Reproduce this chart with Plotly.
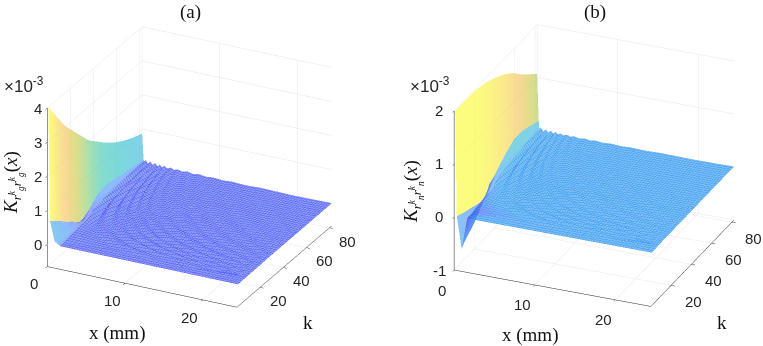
import plotly.graph_objects as go

k_modes = [1, 4, 8, 12, 16, 20, 25, 30, 36, 42, 50, 58, 66, 74, 82]
x_foot = 0.2

# x of the first fall, then of the crests and troughs of the ripple arcs, one row per k
x_near = [0.8, 0.8, 0.9, 1.0, 1.0, 0.9, 0.8, 0.6, 0.5, 0.4, 0.35, 0.3, 0.28, 0.26, 0.25]
x_arcs = [
    [1.5, 2.5, 3.5, 5, 6.5, 8, 9.5, 11, 12.5, 14, 15.5, 17, 18.5, 20, 21, 22, 23, 23.5, 23.7, 23.8, 23.9, 24, 24.1, 24.2, 24.4],
    [1.5, 2.5, 3.5, 5, 6.5, 8, 9.5, 11, 12.5, 14, 15.5, 17, 18.5, 20, 21, 22, 23, 23.5, 23.7, 23.8, 23.9, 24, 24.1, 24.2, 24.4],
    [1.5, 8, 11.2, 14.4, 17.5, 20.6, 23.1, 23.2, 23.3, 23.4, 23.5, 23.6, 23.7, 23.8, 23.85, 23.9, 23.95, 24, 24.05, 24.1, 24.15, 24.2, 24.25, 24.3, 24.4],
    [1.5, 5.4, 7.5, 9.6, 11.7, 13.8, 15.8, 17.9, 20, 22.5, 23.4, 23.5, 23.6, 23.7, 23.8, 23.85, 23.9, 23.95, 24, 24.05, 24.1, 24.15, 24.2, 24.3, 24.4],
    [1.5, 4.1, 5.6, 7.2, 8.8, 10.3, 11.9, 13.4, 15, 16.9, 18.8, 21.2, 23.4, 23.5, 23.6, 23.7, 23.8, 23.9, 24, 24.05, 24.1, 24.15, 24.2, 24.3, 24.4],
    [1.5, 3.25, 4.5, 5.75, 7, 8.25, 9.5, 10.75, 12, 13.5, 15, 17, 19, 21.5, 23.5, 23.6, 23.7, 23.8, 23.9, 24, 24.05, 24.1, 24.2, 24.3, 24.4],
    [1.6, 2.6, 3.6, 4.6, 5.6, 6.6, 7.6, 8.6, 9.6, 10.8, 12, 13.6, 15.2, 17.2, 19.2, 21.6, 23.6, 23.7, 23.8, 23.9, 24, 24.1, 24.2, 24.3, 24.4],
    [1.3, 2.2, 3, 3.8, 4.7, 5.5, 6.3, 7.2, 8, 9, 10, 11.3, 12.7, 14.3, 16, 18, 20, 22.7, 23.7, 23.8, 23.9, 24, 24.1, 24.2, 24.4],
    [1.1, 1.8, 2.5, 3.2, 3.9, 4.6, 5.3, 6, 6.7, 7.5, 8.3, 9.4, 10.6, 11.9, 13.3, 15, 16.7, 18.9, 20.8, 23.4, 23.7, 23.9, 24, 24.2, 24.4],
    [0.95, 1.55, 2.1, 2.7, 3.3, 3.9, 4.5, 5.1, 5.7, 6.4, 7.1, 8.1, 9, 10.2, 11.4, 12.9, 14.3, 16.2, 17.9, 20.2, 22.6, 23.7, 23.9, 24.1, 24.4],
    [0.8, 1.3, 1.8, 2.3, 2.8, 3.3, 3.8, 4.3, 4.8, 5.4, 6, 6.8, 7.6, 8.6, 9.6, 10.8, 12, 13.6, 15, 17, 19, 22, 23.8, 24.1, 24.4],
    [0.69, 1.1, 1.55, 2, 2.4, 2.8, 3.3, 3.7, 4.1, 4.7, 5.2, 5.9, 6.6, 7.4, 8.3, 9.3, 10.3, 11.7, 12.9, 14.7, 16.4, 19, 21.6, 23.9, 24.4],
    [0.61, 0.98, 1.4, 1.7, 2.1, 2.5, 2.9, 3.3, 3.6, 4.1, 4.5, 5.2, 5.8, 6.5, 7.3, 8.2, 9.1, 10.3, 11.4, 12.9, 14.4, 16.7, 18.9, 23.9, 24.4],
    [0.54, 0.88, 1.2, 1.55, 1.9, 2.2, 2.6, 2.9, 3.2, 3.6, 4.1, 4.6, 5.1, 5.8, 6.5, 7.3, 8.1, 9.2, 10.1, 11.5, 12.8, 14.9, 16.9, 21.6, 24.4],
    [0.49, 0.79, 1.1, 1.4, 1.7, 2, 2.3, 2.6, 2.9, 3.3, 3.7, 4.1, 4.6, 5.2, 5.9, 6.6, 7.3, 8.3, 9.1, 10.4, 11.6, 13.4, 15.2, 19.5, 24.4],
]

wall_a = [4.0, 3.8, 3.52, 3.25, 3.0, 2.8, 2.55, 2.3, 2.0, 1.8, 1.53, 1.3, 1.12, 0.97, 0.87]
foot_a = [0.67, 0.58, 0.46, 0.34, 0.2, 0.1, -0.1, -0.15, 0.05, 0.25, 0.32, 0.27, 0.2, 0.15, 0.11]
near_a = [0.1, 0.08, 0.06, 0.04, 0.03, 0.03, 0.02, 0.06, 0.14, 0.2, 0.16, 0.11, 0.08, 0.05, 0.03]
arcs_a = [
    [0, 0, 0, 0, 0, 0, 0, 0, 0, 0, 0, 0, 0, 0, 0, 0, 0, 0, 0, 0, 0, 0, 0, 0, 0],
    [0, 0, 0, 0, 0, 0, 0, 0, 0, 0, 0, 0, 0, 0, 0, 0, 0, 0, 0, 0, 0, 0, 0, 0, 0],
    [.03, 0, .03, 0, .025, 0, .02, 0, .02, 0, .015, 0, .01, 0, .01, 0, .01, 0, .01, 0, .01, 0, .01, 0, .01],
    [.06, 0, .05, 0, .04, 0, .035, 0, .03, 0, .025, 0, .02, 0, .02, 0, .015, 0, .01, 0, .01, 0, .01, 0, .01],
    [.08, 0, .07, 0, .06, 0, .05, 0, .04, 0, .035, 0, .03, 0, .025, 0, .02, 0, .02, 0, .015, 0, .01, 0, .01],
    [.10, 0, .08, 0, .07, 0, .06, 0, .05, 0, .04, 0, .04, 0, .03, 0, .02, 0, .02, 0, .02, 0, .01, 0, .01],
    [.13, 0, .11, 0, .10, 0, .08, 0, .07, 0, .06, 0, .05, 0, .04, 0, .03, 0, .03, 0, .02, 0, .02, 0, .02],
    [.16, 0, .14, 0, .12, 0, .10, 0, .085, 0, .07, 0, .06, 0, .05, 0, .04, 0, .035, 0, .03, 0, .025, 0, .02],
    [.16, 0, .14, 0, .12, 0, .10, 0, .085, 0, .07, 0, .06, 0, .05, 0, .04, 0, .035, 0, .03, 0, .025, 0, .02],
    [.16, 0, .14, 0, .12, 0, .10, 0, .085, 0, .07, 0, .06, 0, .05, 0, .04, 0, .035, 0, .03, 0, .025, 0, .02],
    [.16, 0, .14, 0, .12, 0, .10, 0, .085, 0, .07, 0, .06, 0, .05, 0, .04, 0, .035, 0, .03, 0, .025, 0, .02],
    [.15, 0, .13, 0, .11, 0, .09, 0, .08, 0, .065, 0, .055, 0, .045, 0, .04, 0, .03, 0, .03, 0, .02, 0, .02],
    [.14, 0, .12, 0, .10, 0, .085, 0, .07, 0, .06, 0, .05, 0, .04, 0, .035, 0, .03, 0, .025, 0, .02, 0, .02],
    [.13, 0, .11, 0, .095, 0, .08, 0, .065, 0, .055, 0, .045, 0, .04, 0, .03, 0, .03, 0, .02, 0, .02, 0, .02],
    [.12, 0, .10, 0, .09, 0, .07, 0, .06, 0, .05, 0, .04, 0, .035, 0, .03, 0, .025, 0, .02, 0, .02, 0, .02],
]

wall_b = [1.98, 1.98, 1.98, 1.98, 1.98, 1.97, 1.95, 1.92, 1.87, 1.8, 1.7, 1.56, 1.38, 1.22, 1.07]
foot_b = [0.0, -0.03, -0.07, -0.1, -0.13, -0.17, -0.2, -0.2, -0.05, 0.1, 0.23, 0.33, 0.32, 0.26, 0.18]
near_b = [-0.6, -0.52, -0.42, -0.32, -0.22, -0.15, -0.08, 0.04, 0.08, 0.14, 0.17, 0.18, 0.14, 0.1, 0.06]
arcs_b = [
    [0, 0, 0, 0, 0, 0, 0, 0, 0, 0, 0, 0, 0, 0, 0, 0, 0, 0, 0, 0, 0, 0, 0, 0, 0],
    [0, 0, 0, 0, 0, 0, 0, 0, 0, 0, 0, 0, 0, 0, 0, 0, 0, 0, 0, 0, 0, 0, 0, 0, 0],
    [.02, 0, .02, 0, .015, 0, .015, 0, .01, 0, .01, 0, .01, 0, .01, 0, .01, 0, .01, 0, .01, 0, .01, 0, .01],
    [.03, 0, .03, 0, .025, 0, .02, 0, .02, 0, .015, 0, .015, 0, .01, 0, .01, 0, .01, 0, .01, 0, .01, 0, .01],
    [.04, 0, .035, 0, .03, 0, .025, 0, .02, 0, .02, 0, .015, 0, .015, 0, .01, 0, .01, 0, .01, 0, .01, 0, .01],
    [.05, 0, .04, 0, .035, 0, .03, 0, .025, 0, .02, 0, .02, 0, .015, 0, .015, 0, .01, 0, .01, 0, .01, 0, .01],
    [.06, 0, .05, 0, .045, 0, .04, 0, .03, 0, .025, 0, .02, 0, .02, 0, .015, 0, .015, 0, .01, 0, .01, 0, .01],
    [.08, 0, .07, 0, .06, 0, .05, 0, .04, 0, .03, 0, .025, 0, .02, 0, .02, 0, .015, 0, .015, 0, .01, 0, .01],
    [.10, 0, .085, 0, .07, 0, .06, 0, .05, 0, .04, 0, .03, 0, .025, 0, .02, 0, .02, 0, .015, 0, .015, 0, .01],
    [.10, 0, .085, 0, .07, 0, .06, 0, .05, 0, .04, 0, .03, 0, .025, 0, .02, 0, .02, 0, .015, 0, .015, 0, .01],
    [.10, 0, .085, 0, .07, 0, .06, 0, .05, 0, .04, 0, .03, 0, .025, 0, .02, 0, .02, 0, .015, 0, .015, 0, .01],
    [.09, 0, .08, 0, .065, 0, .055, 0, .045, 0, .035, 0, .03, 0, .025, 0, .02, 0, .02, 0, .015, 0, .01, 0, .01],
    [.09, 0, .075, 0, .06, 0, .05, 0, .04, 0, .035, 0, .03, 0, .02, 0, .02, 0, .015, 0, .015, 0, .01, 0, .01],
    [.08, 0, .07, 0, .055, 0, .045, 0, .04, 0, .03, 0, .025, 0, .02, 0, .02, 0, .015, 0, .01, 0, .01, 0, .01],
    [.07, 0, .06, 0, .05, 0, .04, 0, .035, 0, .03, 0, .025, 0, .02, 0, .015, 0, .015, 0, .01, 0, .01, 0, .01],
]

x_ticks = [0, 10, 20]
k_ticks = [20, 40, 60, 80]
z_ticks_a = [0, 1, 2, 3, 4]
z_ticks_b = [-1, 0, 1, 2]

parula = [
    [0.0, "#3e26a8"], [0.1, "#4746f6"], [0.2, "#2e87f7"], [0.3, "#1fa5de"],
    [0.4, "#0fb9c0"], [0.5, "#24bfa0"], [0.6, "#7fc659"], [0.7, "#c9c129"],
    [0.8, "#f5b941"], [0.9, "#f6d92d"], [1.0, "#f9fb15"],
]

# columns: wall, its foot (twice, so the colour can change there), first fall, arcs
x_grid = [[0, x_foot, x_foot + 0.01, n] + a for n, a in zip(x_near, x_arcs)]


def rows(wall, foot, near, arcs):
    return [[w, f, f, n] + a for w, f, n, a in zip(wall, foot, near, arcs)]


def flat_colour(z):
    # face takes the colour of its first corner, as in the original surf
    return [[row[max(j - 1, 0)] for j in range(len(row))] for row in z]


def surface(z, scene, cmin, cmax):
    return go.Surface(
        x=x_grid, y=k_modes, z=z, surfacecolor=flat_colour(z), scene=scene,
        colorscale=parula, cmin=cmin, cmax=cmax, showscale=False, opacity=0.55,
        lighting=dict(ambient=1, diffuse=0, specular=0, fresnel=0),
    )


def mesh(z, scene, colour):
    # the dense mesh lines sit on the ripple arcs only
    return go.Surface(
        x=[r[4:] for r in x_grid], y=k_modes, z=[r[4:] for r in z], scene=scene,
        colorscale=[[0, colour], [1, colour]], showscale=False, opacity=0.1,
        lighting=dict(ambient=1, diffuse=0, specular=0, fresnel=0),
        contours=dict(
            x=dict(show=True, start=0.3, end=24.4, size=0.33, color=colour, width=1),
            y=dict(show=True, start=1, end=82, size=1.7, color=colour, width=1),
        ),
    )


def tick_notes(z_ticks, zmin, x_shift, k_shift, z_shift):
    notes = []
    for v in x_ticks:
        notes.append(dict(x=v, y=0, z=zmin, text=str(v), xshift=x_shift[0], yshift=x_shift[1]))
    for v in k_ticks:
        notes.append(dict(x=24.4, y=v, z=zmin, text=str(v), xshift=k_shift[0], yshift=k_shift[1]))
    for v in z_ticks:
        notes.append(dict(x=0, y=0, z=v, text=str(v), xshift=z_shift, yshift=0))
    for n in notes:
        n.update(showarrow=False, font=dict(family="Liberation Sans", size=15, color="#262626"))
    return notes


def axis(rng, ticks):
    return dict(
        range=rng, tickvals=ticks, showticklabels=False, title="", ticks="outside", ticklen=4,
        tickcolor="#262626", showline=True, linecolor="#262626", linewidth=1,
        gridcolor="#e6e6e6", gridwidth=1, showbackground=False, zeroline=False,
        showspikes=False,
    )


def scene(dom_x, dom_y, eye, aspect, zr, z_ticks, notes):
    return dict(
        domain=dict(x=dom_x, y=dom_y),
        xaxis=axis([0, 24.4], x_ticks),
        yaxis=axis([0, 82], k_ticks),
        zaxis=axis(zr, z_ticks),
        aspectmode="manual", aspectratio=aspect,
        camera=dict(eye=eye, up=dict(x=0, y=0, z=1), center=dict(x=0, y=0, z=0),
                    projection=dict(type="orthographic")),
        annotations=notes,
    )


z_a = rows(wall_a, foot_a, near_a, arcs_a)
z_b = rows(wall_b, foot_b, near_b, arcs_b)

fig = go.Figure([
    surface(z_a, "scene", -0.65, 4), mesh(z_a, "scene", "#5a5cf4"),
    surface(z_b, "scene2", -0.62, 2), mesh(z_b, "scene2", "#3d9df2"),
])

serif = dict(family="Liberation Serif", size=19, color="#111111")
sans = dict(family="Liberation Sans", size=17, color="#262626")
fig.update_layout(
    width=763, height=346, margin=dict(l=0, r=0, t=0, b=0),
    paper_bgcolor="white", showlegend=False,
    scene=scene([0, 0.497], [0.034, 1], dict(x=0.81, y=-1.62, z=0.86),
                dict(x=1.27, y=1.27, z=1.05), [-0.65, 4], z_ticks_a,
                tick_notes(z_ticks_a, -0.65, (-13, -17), (18, -13), -9)),
    scene2=scene([0.557, 1], [0.0434, 1], dict(x=0.70, y=-1.66, z=0.88),
                 dict(x=1.29, y=1.29, z=1.07), [-1, 2], z_ticks_b,
                 tick_notes(z_ticks_b, -1, (-12, -20), (22, -16), -15)),
    annotations=[
        dict(x=190, y=334, text="(a)", font=serif),
        dict(x=595, y=334, text="(b)", font=serif),
        dict(x=117, y=13, text="x (mm)", font=serif),
        dict(x=530, y=11, text="x (mm)", font=serif),
        dict(x=308, y=24, text="k", font=serif),
        dict(x=722, y=24, text="k", font=serif),
        dict(x=13, y=163, text="<i>K</i><sub><i>r<sup>k</sup><sub>g</sub>r<sup>k</sup><sub>g</sub></i></sub>(<i>x</i>)",
             textangle=-90, font=serif),
        dict(x=413, y=154, text="<i>K</i><sub><i>r<sup>k</sup><sub>n</sub>r<sup>k</sup><sub>n</sub></i></sub>(<i>x</i>)",
             textangle=-90, font=serif),
        dict(x=24, y=261, text="×10<sup>-3</sup>", font=sans),
        dict(x=430, y=261, text="×10<sup>-3</sup>", font=sans),
    ],
)
for a in fig.layout.annotations:
    a.update(xref="paper", yref="paper", showarrow=False, xanchor="center", yanchor="middle")
    a.x = a.x / 763
    a.y = a.y / 346

fig.write_html("out.html", config=dict(displayModeBar=False), post_script="document.body.style.margin='0';")
